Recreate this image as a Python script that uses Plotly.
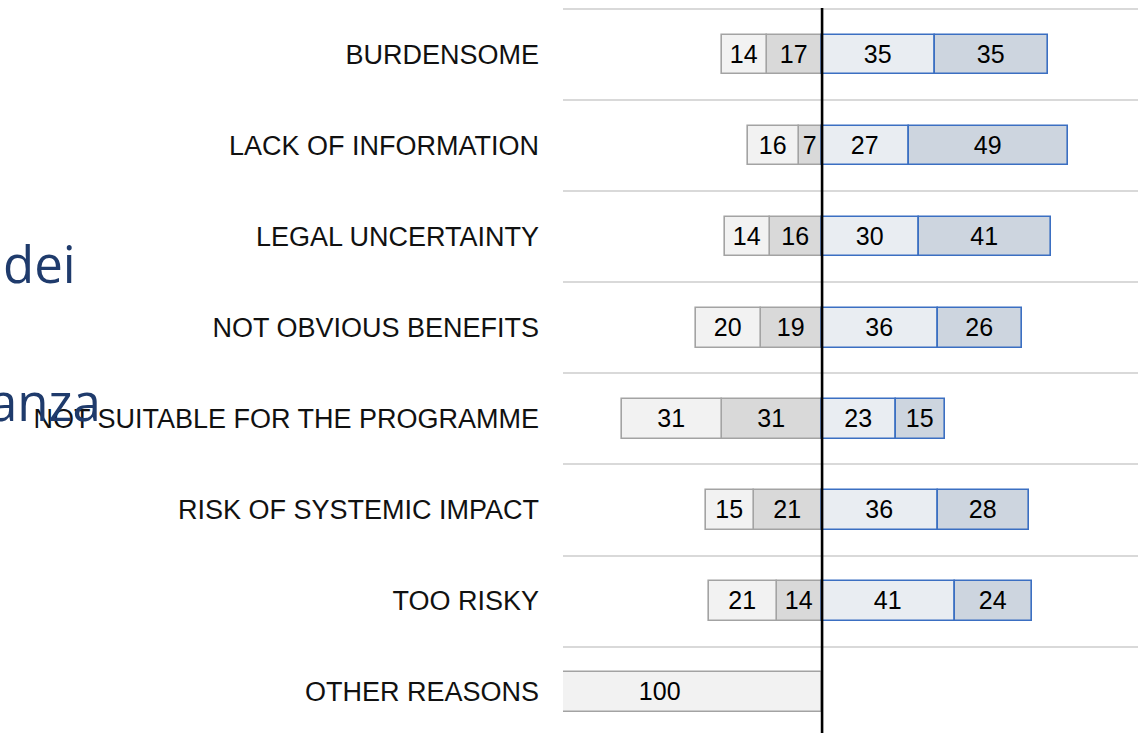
import plotly.graph_objects as go

categories = ["BURDENSOME", "LACK OF INFORMATION", "LEGAL UNCERTAINTY",
              "NOT OBVIOUS BENEFITS", "NOT SUITABLE FOR THE PROGRAMME",
              "RISK OF SYSTEMIC IMPACT", "TOO RISKY", "OTHER REASONS"]
neg_outer = [14, 16, 14, 20, 31, 15, 21, 100]
neg_inner = [17, 7, 16, 19, 31, 21, 14, None]
pos_inner = [35, 27, 30, 36, 23, 36, 41, None]
pos_outer = [35, 49, 41, 26, 15, 28, 24, None]

side_texts = ["dei", "anza"]

W, H = 1138, 733
ML, MT = 563, 8
PW, PH = W - ML, H - MT

ypos = list(range(len(categories)))


def neg(vals):
    return [-v if v is not None else None for v in vals]


def lab(vals):
    return [str(v) if v is not None else "" for v in vals]


num_font = dict(family="Liberation Sans, Arial, sans-serif", size=25, color="#000000")

series = [
    (neg(neg_inner), lab(neg_inner), "#d9d9d9", "#a3a3a3"),
    (neg(neg_outer), lab(neg_outer), "#f2f2f2", "#a3a3a3"),
    (pos_inner, lab(pos_inner), "#e9edf2", "#3b6fc2"),
    (pos_outer, lab(pos_outer), "#cdd5df", "#3b6fc2"),
]

fig = go.Figure()
for xs, txt, fill, edge in series:
    fig.add_trace(go.Bar(
        y=ypos, x=xs, orientation="h", width=0.43,
        marker=dict(color=fill, line=dict(color=edge, width=1.6)),
        text=txt, textposition="inside", insidetextanchor="middle",
        textfont=num_font, constraintext="none",
        hoverinfo="skip", showlegend=False,
    ))

fig.add_shape(type="line", xref="x", yref="paper", x0=0, x1=0, y0=0, y1=1,
              line=dict(color="#000000", width=2.6), layer="above")


def px_to_paper_x(px):
    return (px - ML) / PW


def py_to_paper_y(py):
    return (H - py) / PH


fig.add_annotation(text=side_texts[0], xref="paper", yref="paper",
                   x=px_to_paper_x(1), y=py_to_paper_y(263),
                   xanchor="left", yanchor="middle", showarrow=False,
                   font=dict(family="Open Sans, sans-serif", size=51, color="#1f3b6c"))
fig.add_annotation(text=side_texts[1], xref="paper", yref="paper",
                   x=px_to_paper_x(103), y=py_to_paper_y(401),
                   xanchor="right", yanchor="middle", showarrow=False,
                   font=dict(family="Open Sans, sans-serif", size=51, color="#1f3b6c"))

fig.update_layout(
    width=W, height=H, barmode="relative", bargap=0,
    margin=dict(l=ML, r=0, t=MT, b=0, pad=0),
    paper_bgcolor="white", plot_bgcolor="white",
    xaxis=dict(range=[-80.2, 97.8], showgrid=False, zeroline=False,
               showticklabels=False, ticks="", fixedrange=True),
    yaxis=dict(range=[len(categories) - 0.55, -0.515], tickmode="array",
               tickvals=ypos, ticktext=categories, ticks="",
               tickfont=dict(family="Liberation Sans, Arial, sans-serif", size=27, color="#111111"),
               ticklabelstandoff=23, showgrid=False, zeroline=False,
               minor=dict(tickmode="array", tickvals=[i - 0.5 for i in ypos],
                          showgrid=True, gridcolor="#d9d9d9", gridwidth=2, ticks=""),
               fixedrange=True),
)

fig.write_html("out.html", config={"displayModeBar": False},
               post_script="document.body.style.margin='0px';")
